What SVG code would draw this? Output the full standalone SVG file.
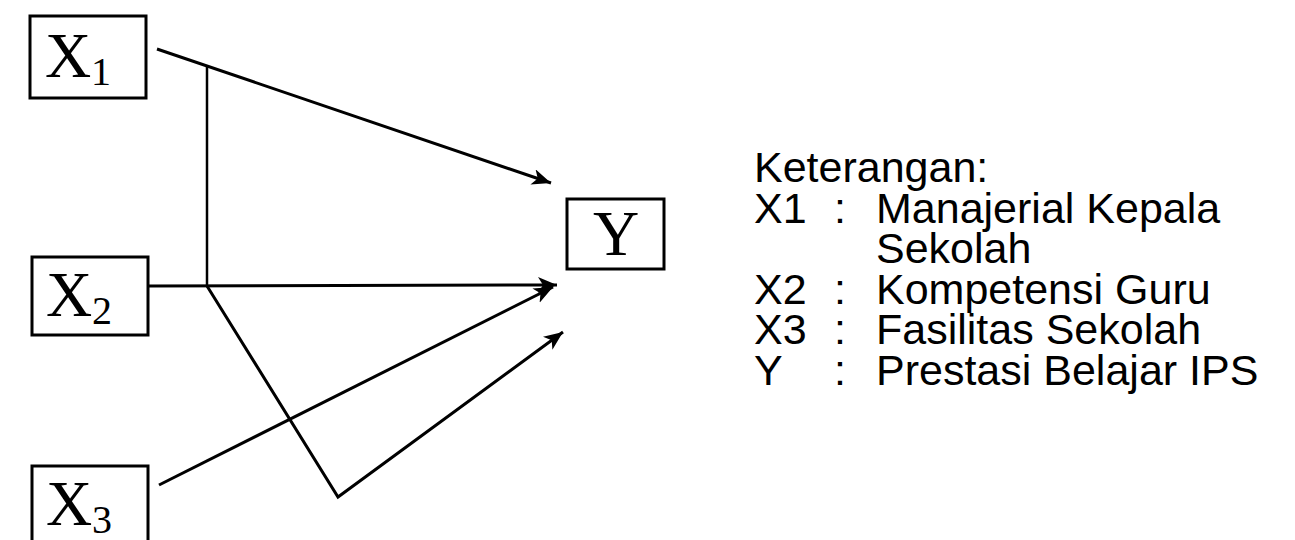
<svg xmlns="http://www.w3.org/2000/svg" width="1295" height="540" viewBox="0 0 1295 540">
<style>
.box{fill:#fff;stroke:#000;stroke-width:3}
.var{font-family:"Liberation Serif",serif;font-size:64px;fill:#000}
.sub{font-family:"Liberation Serif",serif;font-size:40px;fill:#000}
.leg{font-family:"Liberation Sans",Arial,sans-serif;font-size:43px;fill:#000}
.con{fill:none;stroke:#000;stroke-width:3}
.thin{fill:none;stroke:#000;stroke-width:2.5}
</style>
<defs>
<marker id="arr" markerUnits="userSpaceOnUse" markerWidth="22" markerHeight="18" refX="19" refY="8" orient="auto">
<path d="M0,0 L19,8 L0,16 L5,8 z" fill="#000"/>
</marker>
</defs>
<rect width="1295" height="540" fill="#fff"/>
<g id="connectors">
<line class="con" x1="157" y1="49" x2="551" y2="183" marker-end="url(#arr)"/>
<line class="thin" x1="207" y1="66" x2="207" y2="286"/>
<line class="con" x1="148" y1="286" x2="557" y2="285" marker-end="url(#arr)"/>
<polyline class="con" points="207,286 338,497 563,332" marker-end="url(#arr)"/>
<line class="con" x1="159" y1="485" x2="553" y2="287" marker-end="url(#arr)"/>
</g>
<g id="X1">
<rect class="box" x="30" y="16" width="116" height="82"/>
<text class="var" x="45" y="77">X</text><text class="sub" x="91" y="85">1</text>
</g>
<g id="X2">
<rect class="box" x="32" y="257" width="116" height="78"/>
<text class="var" x="46" y="316">X</text><text class="sub" x="92" y="324">2</text>
</g>
<g id="X3">
<rect class="box" x="32" y="466" width="116" height="90"/>
<text class="var" x="46" y="525">X</text><text class="sub" x="92" y="533">3</text>
</g>
<g id="Y">
<rect class="box" x="567" y="199" width="97" height="70"/>
<text class="var" x="616" y="255" text-anchor="middle">Y</text>
</g>
<g id="legend">
<text class="leg" x="754" y="182">Keterangan:</text>
<text class="leg" x="754" y="223">X1</text><text class="leg" x="834" y="223">:</text><text class="leg" x="876" y="223">Manajerial Kepala</text>
<text class="leg" x="876" y="263">Sekolah</text>
<text class="leg" x="754" y="304">X2</text><text class="leg" x="834" y="304">:</text><text class="leg" x="876" y="304">Kompetensi Guru</text>
<text class="leg" x="754" y="344">X3</text><text class="leg" x="834" y="344">:</text><text class="leg" x="876" y="344">Fasilitas Sekolah</text>
<text class="leg" x="754" y="385">Y</text><text class="leg" x="834" y="385">:</text><text class="leg" x="876" y="385">Prestasi Belajar IPS</text>
</g>
</svg>
